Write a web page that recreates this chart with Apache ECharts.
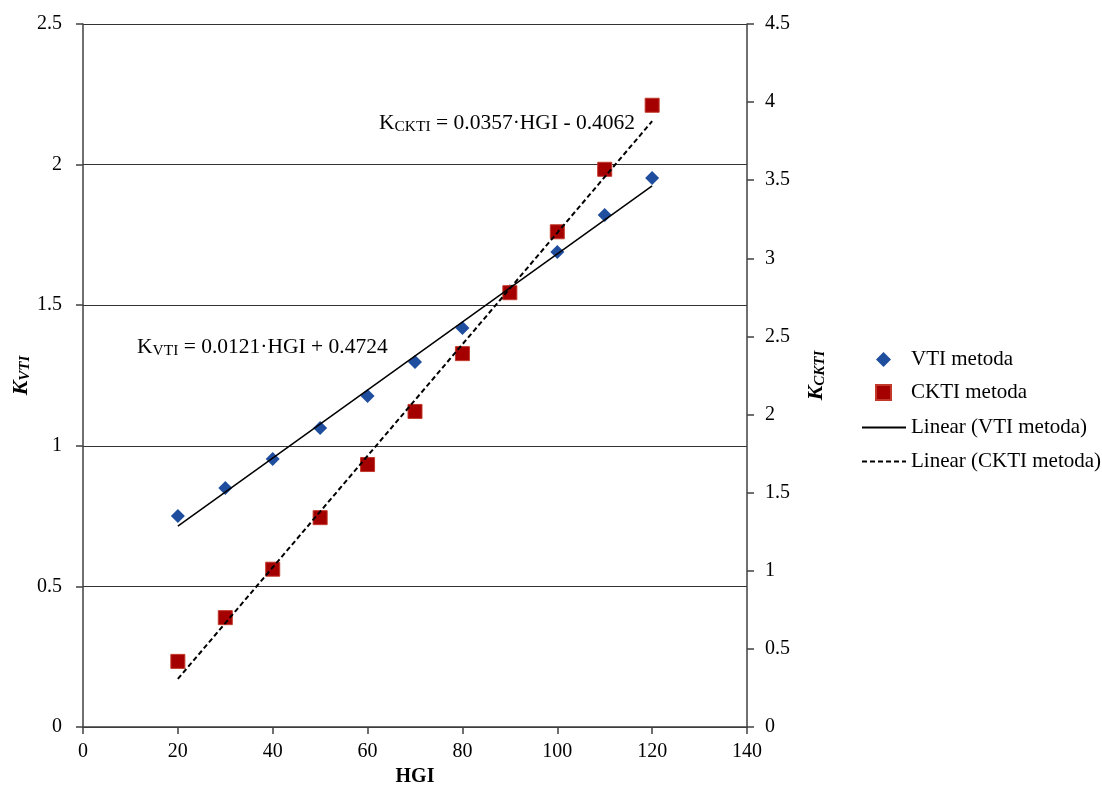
<!DOCTYPE html>
<html>
<head>
<meta charset="utf-8">
<script src="https://cdn.jsdelivr.net/npm/echarts@6/dist/echarts.min.js"></script>
<style>
  html, body { margin: 0; padding: 0; background: #fff; }
  #chart { width: 1102px; height: 792px; }
</style>
</head>
<body>
<div id="chart"></div>
<script>
// HGI values at which both methods were measured
const hgi = [20, 30, 40, 50, 60, 70, 80, 90, 100, 110, 120];
// K_VTI (left axis)
const kVti = [0.75, 0.85, 0.953, 1.063, 1.177, 1.298, 1.419, 1.55, 1.689, 1.821, 1.952];
// K_CKTI (right axis)
const kCkti = [0.42, 0.70, 1.01, 1.34, 1.68, 2.02, 2.39, 2.78, 3.17, 3.57, 3.98];

// Linear fit coefficients as printed on the chart
const vtiFit = { slope: 0.0121, intercept: 0.4724 };
const cktiFit = { slope: 0.0357, intercept: -0.4062 };
const fitRange = [20, 120];

// Axis tick settings
const xTicks = { min: 0, max: 140, interval: 20 };
const leftTicks = { min: 0, max: 2.5, interval: 0.5 };
const rightTicks = { min: 0, max: 4.5, interval: 0.5 };

const FONT = '"Liberation Serif", "Times New Roman", serif';

const fitLine = (fit) => fitRange.map(x => [x, +(fit.slope * x + fit.intercept).toFixed(4)]);

const chart = echarts.init(document.getElementById('chart'), null, { renderer: 'canvas' });

const axisLine = { show: true, lineStyle: { color: '#404040', width: 1.5 } };
const axisTick = { show: true, length: 7, lineStyle: { color: '#404040', width: 1.5 } };
const axisLabel = { color: '#000', fontFamily: FONT, fontSize: 20 };

const titleRich = {
  k: { fontFamily: FONT, fontSize: 22, fontWeight: 'bold', fontStyle: 'italic', lineHeight: 24, color: '#000' },
  s: { fontFamily: FONT, fontSize: 15, fontWeight: 'bold', fontStyle: 'italic', lineHeight: 10, verticalAlign: 'bottom', color: '#000' }
};
const eqRich = {
  k: { fontFamily: FONT, fontSize: 21.5, lineHeight: 24, fill: '#000' },
  s: { fontFamily: FONT, fontSize: 15.5, lineHeight: 10, verticalAlign: 'bottom', fill: '#000' },
  t: { fontFamily: FONT, fontSize: 21.5, lineHeight: 24, fill: '#000' }
};
const legendText = { color: '#000', fontFamily: FONT, fontSize: 21 };

chart.setOption({
  animation: false,
  backgroundColor: '#fff',
  grid: { left: 83, right: 355, top: 24, bottom: 65, containLabel: false, outerBoundsMode: 'none' },
  xAxis: {
    type: 'value',
    min: xTicks.min, max: xTicks.max, interval: xTicks.interval,
    name: 'HGI',
    nameLocation: 'middle',
    nameGap: 40,
    nameTextStyle: { color: '#000', fontFamily: FONT, fontSize: 20, fontWeight: 'bold' },
    axisLine: axisLine,
    axisTick: axisTick,
    axisLabel: Object.assign({ margin: 15 }, axisLabel),
    splitLine: { show: false }
  },
  yAxis: [
    {
      type: 'value',
      position: 'left',
      min: leftTicks.min, max: leftTicks.max, interval: leftTicks.interval,
      name: '{k|K}{s|VTI}',
      nameLocation: 'middle',
      nameRotate: 90,
      nameGap: 50,
      nameMoveOverlap: false,
      nameTextStyle: { color: '#000', fontFamily: FONT, rich: titleRich },
      axisLine: axisLine,
      axisTick: axisTick,
      axisLabel: Object.assign({ margin: 21 }, axisLabel),
      splitLine: { show: true, lineStyle: { color: '#333', width: 1 } }
    },
    {
      type: 'value',
      position: 'right',
      min: rightTicks.min, max: rightTicks.max, interval: rightTicks.interval,
      name: '{k|K}{s|CKTI}',
      nameLocation: 'middle',
      nameRotate: 90,
      nameGap: 57,
      nameTextStyle: { color: '#000', fontFamily: FONT, rich: titleRich },
      axisLine: axisLine,
      axisTick: axisTick,
      axisLabel: Object.assign({ margin: 18 }, axisLabel),
      splitLine: { show: false }
    }
  ],
  legend: [
    {
      // marker entries
      orient: 'vertical',
      left: 870,
      top: 344,
      itemWidth: 15,
      itemHeight: 15,
      itemGap: 12,
      textStyle: Object.assign({ padding: [0, 0, 0, 15] }, legendText),
      data: ['VTI metoda', 'CKTI metoda']
    },
    {
      // trend line entries
      orient: 'vertical',
      left: 856,
      top: 412,
      itemWidth: 44,
      itemHeight: 14,
      itemGap: 13,
      textStyle: legendText,
      data: [
        { name: 'Linear (VTI metoda)', itemStyle: { opacity: 0 } },
        { name: 'Linear (CKTI metoda)', itemStyle: { opacity: 0 } }
      ]
    }
  ],
  series: [
    {
      name: 'VTI metoda',
      type: 'scatter',
      yAxisIndex: 0,
      symbol: 'diamond',
      symbolSize: 14,
      itemStyle: { color: '#1f4e9e', opacity: 1 },
      data: hgi.map((x, i) => [x, kVti[i]]),
      z: 2
    },
    {
      name: 'CKTI metoda',
      type: 'scatter',
      yAxisIndex: 1,
      symbol: 'rect',
      symbolSize: 14,
      itemStyle: { color: '#a50000', borderColor: '#c0392b', borderWidth: 1, opacity: 1 },
      data: hgi.map((x, i) => [x, kCkti[i]]),
      z: 3
    },
    {
      name: 'Linear (VTI metoda)',
      type: 'line',
      yAxisIndex: 0,
      symbol: 'none',
      lineStyle: { color: '#000', width: 1.5 },
      itemStyle: { color: '#000' },
      data: fitLine(vtiFit),
      z: 4
    },
    {
      name: 'Linear (CKTI metoda)',
      type: 'line',
      yAxisIndex: 1,
      symbol: 'none',
      lineStyle: { color: '#000', width: 2, type: [5, 3] },
      itemStyle: { color: '#000' },
      data: fitLine(cktiFit),
      z: 4
    }
  ],
  graphic: [
    {
      type: 'text',
      left: 379,
      top: 112,
      style: { text: '{k|K}{s|CKTI}{t| = 0.0357·HGI - 0.4062}', fontFamily: FONT, rich: eqRich }
    },
    {
      type: 'text',
      left: 137,
      top: 336,
      style: { text: '{k|K}{s|VTI}{t| = 0.0121·HGI + 0.4724}', fontFamily: FONT, rich: eqRich }
    }
  ]
});
</script>
</body>
</html>
